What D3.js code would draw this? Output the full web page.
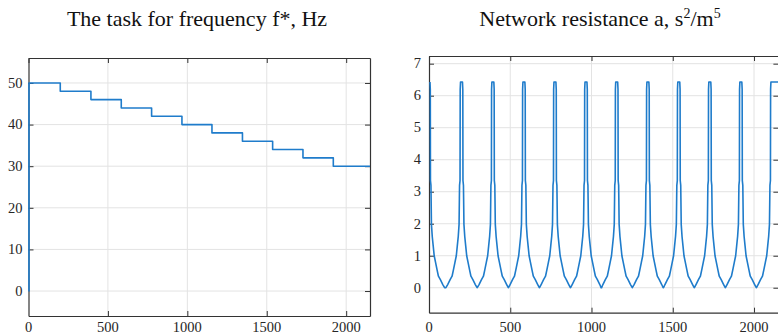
<!DOCTYPE html>
<html lang="en">
  <head>
    <meta charset="utf-8">
    <title>Frequency task and network resistance</title>
    <script type="text/javascript" src="https://d3js.org/d3.v7.min.js"></script>
    <style>
      body { margin: 0; background: #fff; }
      .title { font-family: "Liberation Serif", serif; font-size: 22px; fill: #111; }
      .tlabel { font-family: "Liberation Serif", serif; font-size: 14.5px; fill: #262626; }
    </style>
  </head>
  <body>
    <svg class="chart" width="778" height="335"></svg>
  </body>

  <script>
    //data
    const xTicks = [0, 500, 1000, 1500, 2000];
    const freqTicks = [0, 10, 20, 30, 40, 50];
    const resTicks = [0, 1, 2, 3, 4, 5, 6, 7];

    //frequency task: value holds from each time until the next one
    const freqTimes = [0, 3, 200, 393, 584, 775, 966, 1155, 1347, 1537, 1728, 1919];
    const freqValues = [0, 50, 48, 46, 44, 42, 40, 38, 36, 34, 32, 30];

    //resistance: one spike at every switching moment, same shape each time
    const spikeCenters = [0, 200, 393, 584, 775, 966, 1155, 1347, 1537, 1728, 1919, 2110];
    const spikeOffsets = [-96, -85, -70, -58, -50, -40, -32, -26, -20, -15, -13, -12, -9, -8, -6,
                          6, 8, 9, 12, 13, 15, 20, 26, 32, 40, 50, 58, 70, 85, 96];
    const spikeValues = [0, 0.1, 0.25, 0.36, 0.55, 0.8, 1.0, 1.3, 1.6, 1.98, 2.8, 3.2, 3.35, 6.2, 6.43,
                         6.43, 6.2, 3.35, 3.2, 2.8, 1.98, 1.6, 1.3, 1.0, 0.8, 0.55, 0.36, 0.25, 0.1, 0];
    const tEnd = 2150;

    const lineColor = "#1f7ccb";
    const svg = d3.select(".chart");

    /*
      drawPanel(p)
        - box axes with inward ticks and light grid, MATLAB style
        - tick labels are plain text so the serif font sticks
        - p.points is a list of [t, value]
    */
    function drawPanel(p) {
      var x = d3.scaleLinear().domain([0, tEnd]).range([p.left, p.right]);
      var y = d3.scaleLinear().domain(p.yDomain).range([p.bottom, p.top]);
      var g = svg.append("g");

      //grid
      g.selectAll(".vgrid").data(xTicks.slice(1)).enter().append("line")
        .attr("x1", d=>x(d)).attr("x2", d=>x(d))
        .attr("y1", p.top).attr("y2", p.bottom)
        .attr("stroke", "#e3e3e3").attr("stroke-width", 1);
      g.selectAll(".hgrid").data(p.yTicks).enter().append("line")
        .attr("x1", p.left).attr("x2", p.right)
        .attr("y1", d=>y(d)).attr("y2", d=>y(d))
        .attr("stroke", "#e3e3e3").attr("stroke-width", 1);

      //box with inward ticks
      var tickColor = "#333";
      var bottom = g.append("g").attr("transform", "translate(0," + p.bottom + ")")
        .call(d3.axisBottom(x).tickValues(xTicks).tickSize(-5).tickFormat("").tickSizeOuter(0));
      var top = g.append("g").attr("transform", "translate(0," + p.top + ")")
        .call(d3.axisTop(x).tickValues(xTicks).tickSize(-5).tickFormat("").tickSizeOuter(0));
      var left = g.append("g").attr("transform", "translate(" + p.left + ",0)")
        .call(d3.axisLeft(y).tickValues(p.yTicks).tickSize(-5).tickFormat("").tickSizeOuter(0));
      var right = g.append("g").attr("transform", "translate(" + p.right + ",0)")
        .call(d3.axisRight(y).tickValues(p.yTicks).tickSize(-5).tickFormat("").tickSizeOuter(0));
      [bottom, top, left, right].forEach(function(a) {
        a.select(".domain").attr("stroke", tickColor).attr("stroke-width", 1.2);
        a.selectAll(".tick line").attr("stroke", tickColor);
      });
      bottom.select(".tick:first-of-type line").remove();
      left.select(".tick:first-of-type line").remove();

      //tick labels
      g.selectAll(".xl").data(xTicks).enter().append("text")
        .attr("class", "tlabel")
        .attr("x", d=>x(d)).attr("y", p.bottom + p.xLabelGap)
        .attr("text-anchor", "middle")
        .text(d=>d);
      g.selectAll(".yl").data(p.yTicks).enter().append("text")
        .attr("class", "tlabel")
        .attr("x", p.left - p.labelGap).attr("y", d=>y(d)).attr("dy", "0.33em")
        .attr("text-anchor", "end")
        .text(d=>d);

      //data line on top of the box
      var line = d3.line().x(d=>x(d[0])).y(d=>y(d[1]));
      if (p.step) line.curve(d3.curveStepAfter);
      g.append("path")
        .datum(p.points)
        .attr("fill", "none")
        .attr("stroke", lineColor)
        .attr("stroke-width", 1.6)
        .attr("stroke-linejoin", "round")
        .attr("d", line);
    }

    //left panel points
    var freqPoints = freqTimes.map((t, i) => [t, freqValues[i]]);
    freqPoints.push([tEnd, freqValues[freqValues.length - 1]]);

    //right panel points
    var resPoints = [];
    spikeCenters.forEach(function(c, k) {
      var last = k == spikeCenters.length - 1;
      spikeOffsets.forEach(function(o, j) {
        var t = c + o;
        if (t < 0 || t > tEnd) return;
        if (last && o > 0) return;
        resPoints.push([t, spikeValues[j]]);
      });
    });
    resPoints.push([tEnd, 6.43]);
    resPoints.sort((a, b) => a[0] - b[0]);

    drawPanel({
      left: 28.5, right: 370, top: 58, bottom: 316,
      yDomain: [-6, 56], yTicks: freqTicks, labelGap: 6, xLabelGap: 16,
      points: freqPoints, step: true
    });

    drawPanel({
      left: 429, right: 778.4, top: 56, bottom: 312.7,
      yDomain: [-0.78, 7.24], yTicks: resTicks, labelGap: 8, xLabelGap: 19,
      points: resPoints, step: false
    });

    //titles
    svg.append("text").attr("class", "title")
      .attr("x", 197).attr("y", 26).attr("text-anchor", "middle")
      .text("The task for frequency f*, Hz");

    var t2 = svg.append("text").attr("class", "title")
      .attr("x", 600).attr("y", 26).attr("text-anchor", "middle");
    t2.append("tspan").text("Network resistance a, s");
    t2.append("tspan").attr("dy", -8).attr("font-size", 14).text("2");
    t2.append("tspan").attr("dy", 8).text("/m");
    t2.append("tspan").attr("dy", -8).attr("font-size", 14).text("5");
  </script>
</html>
